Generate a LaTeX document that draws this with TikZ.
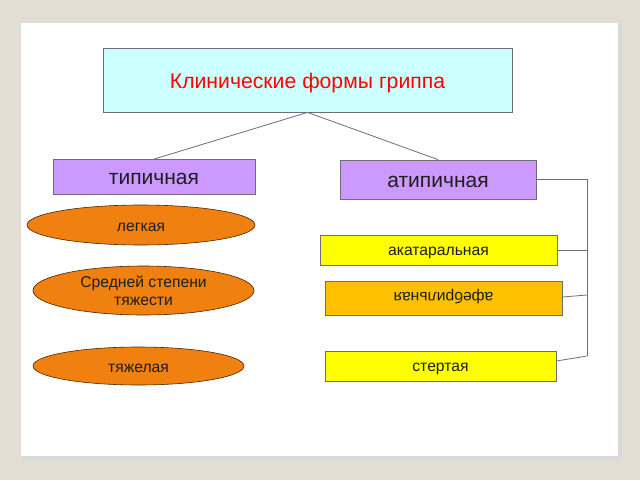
\documentclass[tikz,border=0pt]{standalone}
\usepackage{fontspec}
\setmainfont{Liberation Sans}
\usetikzlibrary{shapes.geometric}
\definecolor{bgc}{RGB}{227,222,211}
\definecolor{titlefill}{RGB}{204,255,255}
\definecolor{lav}{RGB}{204,153,255}
\definecolor{orng}{RGB}{240,128,16}
\definecolor{ylw}{RGB}{255,255,0}
\definecolor{gold}{RGB}{255,192,0}
\definecolor{edge}{RGB}{110,110,120}
\definecolor{txt}{RGB}{30,30,30}
\tikzset{
  box/.style={draw=edge, line width=0.8pt, inner sep=0pt, text=txt, text depth=0pt},
  kind/.style={box, fill=lav, font=\fontsize{21}{24}\selectfont, text height=15pt},
  form/.style={box, font=\fontsize{15.7}{18}\selectfont, text height=11.2pt},
  oval/.style={ellipse, draw=black!70!orng, line width=0.6pt, fill=orng, inner sep=0pt, text=txt, font=\fontsize{15.7}{18}\selectfont, align=center},
  onel/.style={text height=12pt, text depth=0pt},
  link/.style={draw=edge, line width=0.8pt}
}
\begin{document}
\begin{tikzpicture}[x=1pt,y=-1pt]
\useasboundingbox (0,0) rectangle (640,480);
\fill[bgc] (0,0) rectangle (640,480);
% slide shadow
\fill[black!25] (23,26) rectangle (621,459);
\fill[black!15] (22,24) rectangle (622,460);
\fill[white] (21,23) rectangle (618,456);

\node[box, fill=titlefill, minimum width=409pt, minimum height=64pt, text=red, font=\fontsize{21.2}{24}\selectfont, text height=17.8pt] (title) at (307.5,80) {Клинические формы гриппа};
\node[kind, minimum width=202pt, minimum height=35pt] (typ) at (154,177) {типичная};
\node[kind, minimum width=196pt, minimum height=39pt] (atyp) at (438,179.5) {атипичная};

\node[oval, onel, minimum width=228pt, minimum height=40pt] (light) at (141,225) {легкая};
\node[oval, minimum width=221pt, minimum height=49pt] (mid) at (143.5,290.5) {Средней степени\\тяжести};
\node[oval, onel, minimum width=211pt, minimum height=38pt] (heavy) at (138.5,366) {тяжелая};

\node[form, fill=ylw, minimum width=237pt, minimum height=30pt] (akat) at (438.5,250) {акатаральная};
\node[form, fill=gold, minimum width=237pt, minimum height=34pt] (afeb) at (443.5,298) {};
\node[rotate=180, inner sep=0pt, text=txt, font=\fontsize{15.7}{18}\selectfont, text height=11.2pt, text depth=0pt] (afebt) at (443.5,298) {афебрильная};
\node[form, fill=ylw, minimum width=231pt, minimum height=30pt] (ster) at (440.5,366) {стертая};

\draw[link] (title.south) -- (typ.north);
\draw[link] (title.south) -- (atyp.north);

\coordinate (b1) at (587,179.5);
\coordinate (b2) at (587,250);
\coordinate (b3) at (587,295);
\coordinate (b4) at (587,356);
\draw[link] (atyp.east) -- (b1) -- (b4);
\draw[link] (akat.east) -- (b2);
\draw[link] ([yshift=1pt]afeb.east) -- (b3);
\draw[link] ([yshift=5pt]ster.east) -- (b4);
\end{tikzpicture}
\end{document}
